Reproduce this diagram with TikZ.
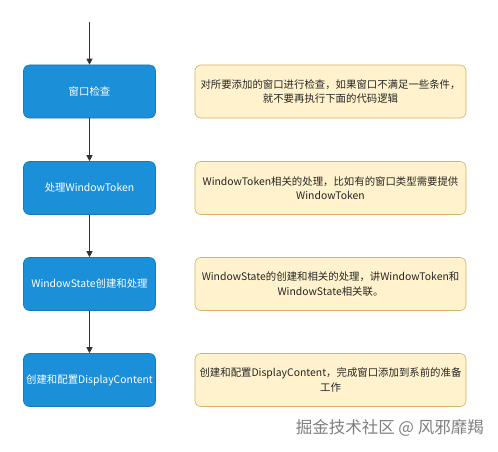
\documentclass[tikz,border=0pt]{standalone}
\usepackage{fontspec}
\setmainfont{Noto Sans CJK SC}
\usetikzlibrary{arrows.meta}
\definecolor{stepblue}{HTML}{1B8FD8}
\definecolor{stepline}{HTML}{1878B8}
\definecolor{notefill}{HTML}{FFF2CC}
\definecolor{noteline}{HTML}{D6B656}
\tikzset{
  x=1pt,y=1pt,
  stepbox/.style={rectangle, rounded corners=6pt, fill=stepblue, draw=stepline, line width=0.6pt,
    minimum width=132pt, minimum height=53pt, text=white, font=\fontsize{10.4}{13}\selectfont, align=center, inner sep=1pt},
  notebox/.style={rectangle, rounded corners=6pt, fill=notefill, draw=noteline, line width=0.6pt,
    minimum width=271pt, minimum height=53pt, text=black!85, font=\fontsize{10.4}{14.5}\selectfont, align=center, inner sep=1pt},
  flow/.style={draw=black!80, line width=0.8pt, -{Triangle[length=6pt,width=6pt]}}
}
\begin{document}
\begin{tikzpicture}
\useasboundingbox (0,0) rectangle (498,451);
\fill[white] (0,0) rectangle (498,451);
\coordinate (start) at (89.5,429);
\node[stepbox] (s1) at (89.5,359.5) {窗口检查};
\node[stepbox] (s2) at (89.5,263) {处理WindowToken};
\node[stepbox] (s3) at (89.5,167) {WindowState创建和处理};
\node[stepbox] (s4) at (89.5,71) {创建和配置DisplayContent};
\node[notebox] (n1) at (330.5,359.5) {对所要添加的窗口进行检查，如果窗口不满足一些条件，\\就不要再执行下面的代码逻辑};
\node[notebox] (n2) at (330.5,263) {WindowToken相关的处理，比如有的窗口类型需要提供\\WindowToken};
\node[notebox] (n3) at (330.5,167) {WindowState的创建和相关的处理，讲WindowToken和\\WindowState相关联。};
\node[notebox] (n4) at (330.5,71) {创建和配置DisplayContent，完成窗口添加到系前的准备\\工作};
\draw[flow] (start) -- (s1.north);
\draw[flow] (s1.south) -- (s2.north);
\draw[flow] (s2.south) -- (s3.north);
\draw[flow] (s3.south) -- (s4.north);
\node[text=black!50, font=\fontsize{16.5}{18}\selectfont, anchor=east, inner sep=0pt] (wm) at (484,23) {掘金技术社区 @ 风邪靡羯};
\end{tikzpicture}
\end{document}
